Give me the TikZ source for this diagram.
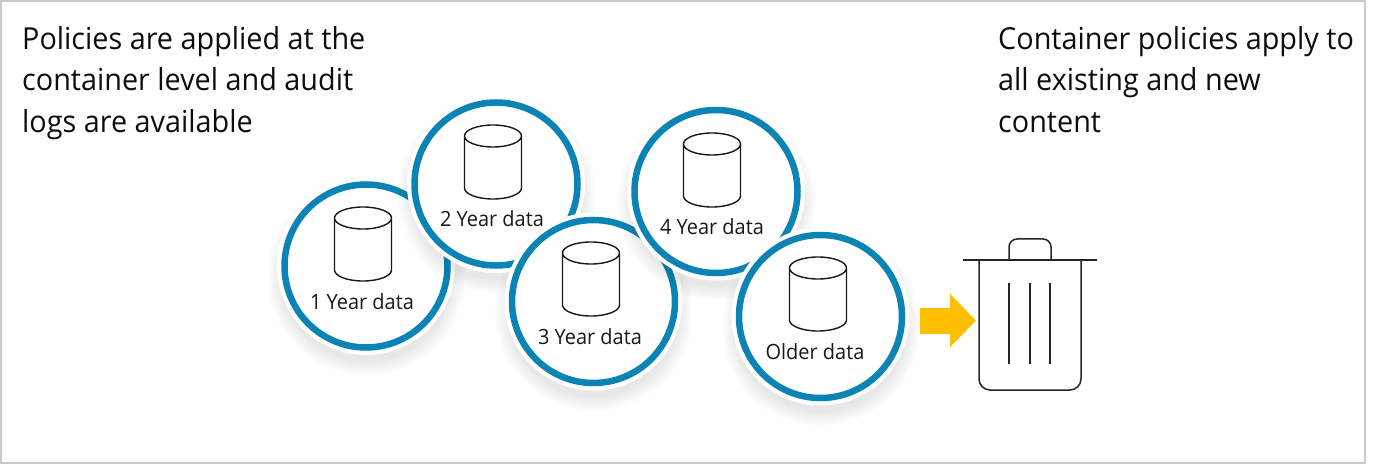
\documentclass[tikz,border=0pt]{standalone}
\usepackage{fontspec}
\setmainfont[FakeStretch=0.95]{Open Sans}
\usepackage{xcolor}
\usetikzlibrary{shadows}
\usetikzlibrary{arrows.meta}
\definecolor{ringblue}{HTML}{0B84B5}
\definecolor{arrowyellow}{HTML}{FFBE00}
\definecolor{framegray}{HTML}{C9C9C9}
\tikzset{
  ringnode/.style={circle,draw=ringblue,fill=white,line width=6.5pt,minimum size=163pt,inner sep=0pt,
    circular drop shadow={shadow xshift=0pt,shadow yshift=-8pt,shadow scale=1.22,fill=black,opacity=0.09},
    preaction={draw=white,line width=15pt}},
  datalabel/.style={font=\fontsize{21}{24}\selectfont,text=black!90,inner sep=0pt},
  notetext/.style={font=\fontsize{30.3}{41.5}\selectfont,text=black!95,align=left,anchor=north west,inner sep=0pt},
  bin/.style={line width=1.5pt,black!85},
  datacan/.pic={
    \draw[line width=1.4pt,black!90,line join=round] (-28.5,0) arc (180:-180:28.5 and 11)
      (-28.5,0) -- (-28.5,52) arc (180:0:28.5 and 11) -- (28.5,0);
  }
}
\begin{document}
\begin{tikzpicture}[x=1pt,y=-1pt]
      \useasboundingbox (0,0) rectangle (1382,465);
      \draw[framegray,line width=2pt] (1,1) rectangle (1365,463);
      \node[notetext] (noteleft) at (22,26) {Policies are applied at the\\container level and audit\\logs are available};
      \node[notetext] (noteright) at (998,26) {Container policies apply to\\all existing and new\\content};
      % rings, later ones lie on top
      \node[ringnode] (ring1) at (366,266) {};
      \pic at (363,218) {datacan};
      \node[datalabel] (label1) at (362,302) {1 Year data};
      \node[ringnode] (ring2) at (496,184) {};
      \pic at (493,136) {datacan};
      \node[datalabel] (label2) at (492,219) {2 Year data};
      \node[ringnode] (ring3) at (593.5,301.5) {};
      \pic at (591,253) {datacan};
      \node[datalabel] (label3) at (590,337) {3 Year data};
      \node[ringnode] (ring4) at (716,191.5) {};
      \pic at (712,144) {datacan};
      \node[datalabel] (label4) at (712,227) {4 Year data};
      \node[ringnode] (ring5) at (820.5,316.5) {};
      \pic at (818,268) {datacan};
      \node[datalabel] (label5) at (815,352) {Older data};
      \coordinate (arrowstart) at (920,320.5);
      \coordinate (arrowend) at (976,320.5);
      \draw[arrowyellow,line width=26pt,-{Triangle[length=26pt,width=52pt]}] (arrowstart) -- (arrowend);
      % trash bin
      \draw[bin] (963,260) -- (1097,260);
      \draw[bin,rounded corners=8pt] (1009,260) -- (1009,239) -- (1051,239) -- (1051,260);
      \draw[bin,rounded corners=11pt] (979,260) -- (979,390) -- (1081,390) -- (1081,260);
      \draw[bin] (1009,283) -- (1009,364);
      \draw[bin] (1030,283) -- (1030,364);
      \draw[bin] (1050,283) -- (1050,364);
    \end{tikzpicture}
\end{document}
